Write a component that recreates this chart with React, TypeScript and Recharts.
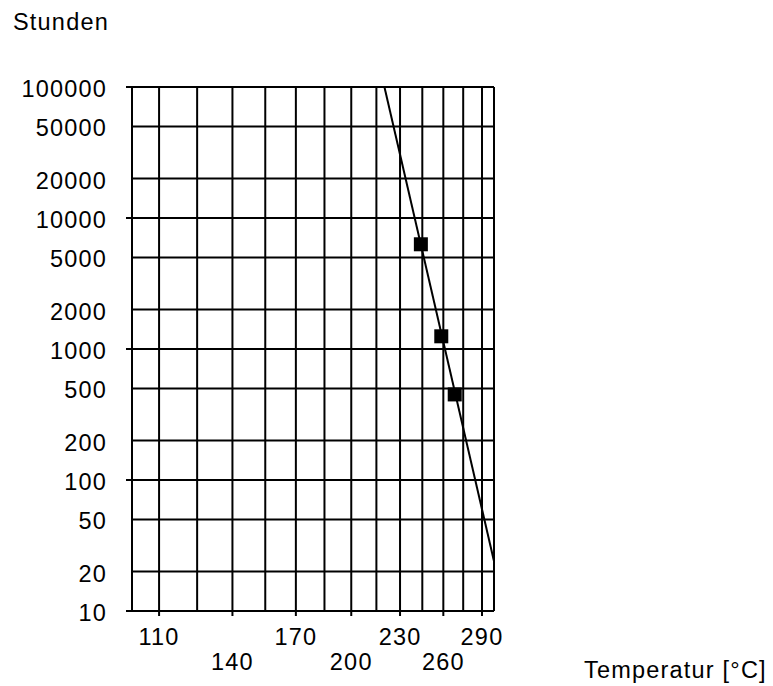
import React from "react";
import {
  ComposedChart,
  Line,
  Scatter,
  XAxis,
  YAxis,
  CartesianGrid,
  ReferenceLine,
} from "recharts";

const hourTicks = [10, 20, 50, 100, 200, 500, 1000, 2000, 5000, 10000, 20000, 50000, 100000];
const gridTemps = [110, 125, 140, 155, 170, 185, 200, 215, 230, 245, 260, 275, 290];
const labelTemps = [110, 140, 170, 200, 230, 260, 290];
const tempRange = [100, 300];

// Messpunkte
const measuredTemps = [244, 258.5, 268.5];
const measuredHours = [6300, 1250, 450];

// Ausgleichsgerade (Endpunkte)
const fitTemps = [220, 300];
const fitHours = [100000, 24];

const FONT = "'Liberation Sans', Arial, sans-serif";
const FS = 23.5;

// Arrhenius-Achse: aufgetragen gegen -1000/T[K]
const toInv = (c: number) => -1000 / (c + 273.15);
const fromInv = (u: number) => -1000 / u - 273.15;

const measured = measuredTemps.map((t, i) => ({ u: toInv(t), h: measuredHours[i] }));
const fit = fitTemps.map((t, i) => ({ u: toInv(t), h: fitHours[i] }));

function TempTick({ x, y, payload }: any) {
  const t = Math.round(fromInv(payload.value));
  const idx = labelTemps.indexOf(t);
  if (idx < 0) return <g />;
  return (
    <g>
      <line x1={x} y1={y} x2={x} y2={y + 5} stroke="#000" strokeWidth={2} />
      <text
        x={x}
        y={y + (idx % 2 === 0 ? 34 : 59)}
        textAnchor="middle"
        fontFamily={FONT}
        fontSize={FS}
        letterSpacing={1.2}
        fill="#000"
      >
        {t}
      </text>
    </g>
  );
}

function HourTick({ x, y, payload }: any) {
  const v = payload.value;
  const decade = /^10*$/.test(String(v));
  return (
    <g>
      {decade && <line x1={x - 6} y1={y} x2={x} y2={y} stroke="#000" strokeWidth={2} />}
      <text
        x={x - 25}
        y={y + 10}
        textAnchor="end"
        fontFamily={FONT}
        fontSize={FS}
        letterSpacing={1.2}
        fill="#000"
      >
        {v}
      </text>
    </g>
  );
}

const Square = (p: any) => (
  <rect x={p.cx - 7} y={p.cy - 7} width={14} height={14} fill="#000" />
);

export default function App() {
  return (
    <div style={{ position: "absolute", left: 0, top: 0, width: 773, height: 686, background: "#fff" }}>
      <ComposedChart
        width={773}
        height={686}
        margin={{ top: 87, right: 279, bottom: 0, left: 0 }}
      >
        <CartesianGrid stroke="#000" strokeWidth={2} />
        <XAxis
          type="number"
          dataKey="u"
          domain={[toInv(tempRange[0]), toInv(tempRange[1])]}
          ticks={gridTemps.map(toInv)}
          interval={0}
          allowDataOverflow
          height={75}
          tickSize={0}
          tickMargin={0}
          tickLine={false}
          axisLine={{ stroke: "#000", strokeWidth: 2 }}
          tick={<TempTick />}
        />
        <YAxis
          type="number"
          scale="log"
          domain={[hourTicks[0], hourTicks[hourTicks.length - 1]]}
          ticks={hourTicks}
          interval={0}
          allowDataOverflow
          width={132}
          tickSize={0}
          tickMargin={0}
          tickLine={false}
          axisLine={{ stroke: "#000", strokeWidth: 2 }}
          tick={<HourTick />}
        />
        <ReferenceLine x={toInv(tempRange[1])} stroke="#000" strokeWidth={2} />
        <ReferenceLine y={hourTicks[hourTicks.length - 1]} stroke="#000" strokeWidth={2} />
        <Line
          data={fit}
          dataKey="h"
          type="linear"
          stroke="#000"
          strokeWidth={2}
          dot={false}
          activeDot={false}
          isAnimationActive={false}
        />
        <Scatter data={measured} dataKey="h" shape={Square} isAnimationActive={false} />
      </ComposedChart>
      <svg
        width={773}
        height={686}
        style={{ position: "absolute", left: 0, top: 0, pointerEvents: "none" }}
      >
        <text x={13} y={30} fontFamily={FONT} fontSize={FS} letterSpacing={1.2} fill="#000">
          Stunden
        </text>
        <text x={584} y={678} fontFamily={FONT} fontSize={FS} letterSpacing={1.2} fill="#000">
          Temperatur [°C]
        </text>
      </svg>
    </div>
  );
}
